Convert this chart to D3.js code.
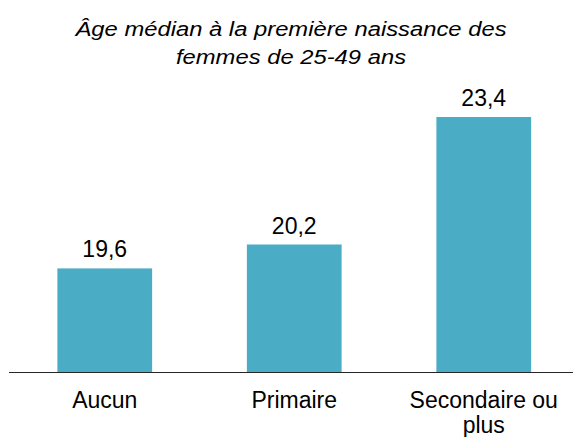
<!DOCTYPE html>
<html>
<head>
<meta charset="utf-8">
<script src="https://cdn.jsdelivr.net/npm/d3@7"></script>
<style>
  body { margin: 0; background: #fff; }
  text { font-family: "Liberation Sans", Arial, sans-serif; fill: #000; }
</style>
</head>
<body>
<svg id="chart" width="573" height="437"></svg>
<script>
var categories = ["Aucun", "Primaire", "Secondaire ou plus"];
var values = [19.6, 20.2, 23.4];
var title_lines = ["Âge médian à la première naissance des", "femmes de 25-49 ans"];

var svg = d3.select("#chart");
var base_y = 372;

var x = d3.scaleBand()
    .domain(categories)
    .range([10, 578.5])
    .paddingInner(0.5)
    .paddingOuter(0.25);

var y = d3.scaleLinear()
    .domain([17, 23.4])
    .range([base_y, 117]);

// Title, two lines, italic (the original face is a bit wider, so stretch it).
svg.append("text")
    .attr("transform", "translate(291,0) scale(1.22,1)")
    .attr("text-anchor", "middle")
    .style("font-style", "italic")
    .style("font-size", "19.5px")
    .selectAll("tspan").data(title_lines).enter().append("tspan")
    .attr("x", 0)
    .attr("y", function(d, i) { return 36 + i * 28; })
    .text(function(d) { return d; });

// Bars.
svg.selectAll(".bar").data(values).enter().append("rect")
    .attr("class", "bar")
    .attr("x", function(d, i) { return x(categories[i]); })
    .attr("y", function(d) { return y(d); })
    .attr("width", x.bandwidth())
    .attr("height", function(d) { return base_y - y(d); })
    .attr("fill", "#4bacc6");

// Value labels.
svg.selectAll(".val").data(values).enter().append("text")
    .attr("class", "val")
    .attr("x", function(d, i) { return x(categories[i]) + x.bandwidth() / 2; })
    .attr("y", function(d) { return y(d) - 11; })
    .attr("text-anchor", "middle")
    .style("font-size", "23px")
    .text(function(d) { return d.toFixed(1).replace(".", ","); });

// Axis line.
svg.append("line")
    .attr("x1", 9).attr("x2", 573)
    .attr("y1", base_y + 0.5).attr("y2", base_y + 0.5)
    .attr("stroke", "#262626")
    .attr("stroke-width", 1);

// Category labels; the long one wraps.
var cat_lines = { "Secondaire ou plus": ["Secondaire ou", "plus"] };
categories.forEach(function(c) {
    var lines = cat_lines[c] || [c];
    svg.append("text")
        .attr("text-anchor", "middle")
        .style("font-size", "23px")
        .selectAll("tspan").data(lines).enter().append("tspan")
        .attr("x", x(c) + x.bandwidth() / 2)
        .attr("y", function(d, i) { return 408 + i * 25; })
        .text(function(d) { return d; });
});
</script>
</body>
</html>
